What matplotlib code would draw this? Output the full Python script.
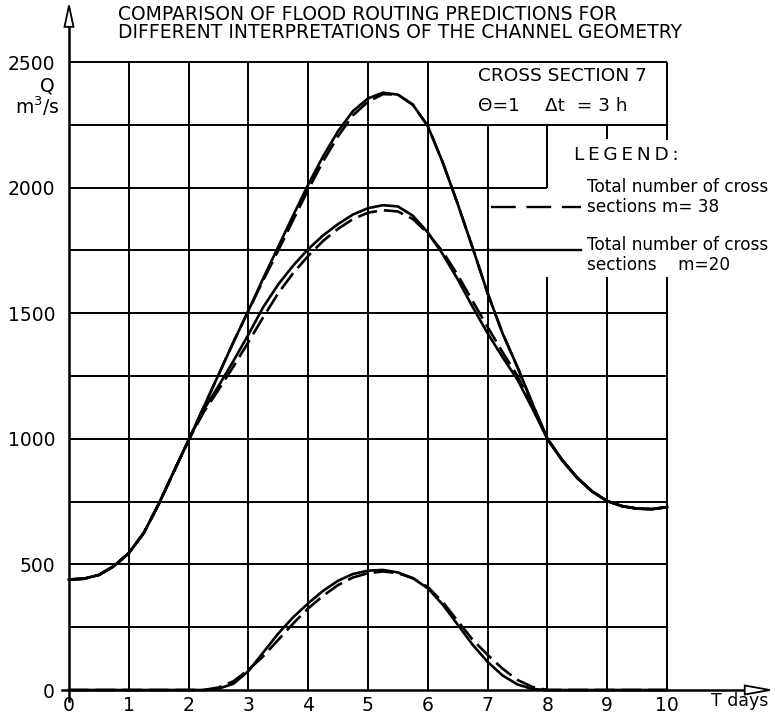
import matplotlib
matplotlib.use("Agg")
import matplotlib.pyplot as plt
from matplotlib.patches import Polygon

# ---------------------------------------------------------------------------
# Data: discharge Q (m^3/s) versus time T (days), cross section 7
# ---------------------------------------------------------------------------
days = [0.0, 0.25, 0.5, 0.75, 1.0, 1.25, 1.5, 1.75, 2.0, 2.25, 2.5, 2.75,
        3.0, 3.25, 3.5, 3.75, 4.0, 4.25, 4.5, 4.75, 5.0, 5.25, 5.5, 5.75,
        6.0, 6.25, 6.5, 6.75, 7.0, 7.25, 7.5, 7.75, 8.0, 8.25, 8.5, 8.75,
        9.0, 9.25, 9.5, 9.75, 10.0]

# upper hydrograph
upper_m20 = [440, 443, 458, 493, 545, 625, 740, 868, 995, 1125, 1255, 1385,
             1510, 1640, 1765, 1890, 2012, 2125, 2225, 2305, 2355, 2378, 2370, 2330,
             2245, 2100, 1935, 1760, 1580, 1420, 1285, 1140, 1000, 915, 845, 790,
             752, 732, 722, 720, 728]
upper_m38 = [440, 443, 458, 493, 545, 625, 740, 868, 995, 1125, 1255, 1385,
             1510, 1632, 1750, 1872, 1992, 2105, 2205, 2288, 2342, 2372, 2370, 2330,
             2245, 2100, 1935, 1760, 1580, 1420, 1285, 1140, 1000, 915, 845, 790,
             752, 732, 722, 720, 728]

# middle hydrograph
middle_m20 = [440, 443, 458, 493, 545, 625, 740, 868, 995, 1115, 1210, 1310,
              1415, 1525, 1615, 1690, 1755, 1810, 1855, 1893, 1918, 1930, 1925, 1888,
              1822, 1735, 1635, 1525, 1420, 1325, 1235, 1120, 1000, 912, 843, 790,
              752, 732, 722, 720, 728]
middle_m38 = [440, 443, 458, 493, 545, 625, 740, 868, 995, 1105, 1195, 1288,
              1385, 1485, 1580, 1660, 1728, 1788, 1836, 1875, 1900, 1910, 1905, 1875,
              1818, 1745, 1652, 1548, 1445, 1345, 1250, 1130, 1000, 915, 845, 790,
              752, 732, 722, 720, 728]

# lower hydrograph
lower_m20 = [0, 0, 0, 0, 0, 0, 0, 0, 0, 0, 5, 25,
             75, 150, 225, 290, 345, 395, 435, 462, 475, 478, 468, 445,
             405, 340, 260, 180, 112, 58, 22, 4, 0, 0, 0, 0,
             0, 0, 0, 0, 0]
lower_m38 = [0, 0, 0, 0, 0, 0, 0, 0, 0, 0, 10, 35,
             80, 135, 200, 265, 325, 375, 418, 448, 465, 472, 465, 445,
             410, 350, 275, 200, 140, 85, 40, 12, 0, 0, 0, 0,
             0, 0, 0, 0, 0]

x_ticks = [0, 1, 2, 3, 4, 5, 6, 7, 8, 9, 10]
x_tick_labels = ["0", "1", "2", "3", "4", "5", "6", "7", "8", "9", "10"]
y_ticks = [0, 500, 1000, 1500, 2000, 2500]
y_tick_labels = ["0", "500", "1000", "1500", "2000", "2500"]
q_grid = [0, 250, 500, 750, 1000, 1250, 1500, 1750, 2000, 2250, 2500]

title_lines = ["COMPARISON OF FLOOD ROUTING PREDICTIONS FOR",
               "DIFFERENT INTERPRETATIONS OF THE CHANNEL GEOMETRY"]
legend_m38 = ["Total number of cross", "sections m= 38"]
legend_m20 = ["Total number of cross", "sections    m=20"]

# ---------------------------------------------------------------------------
# Figure geometry (pixels)
# ---------------------------------------------------------------------------
W, H, DPI = 775, 717, 100
X0_PX, PX_PER_DAY = 69.0, 59.8        # T = 0 position, scale
Y0_PX, PX_PER_Q = 690.0, 0.2512       # Q = 0 position, scale
XLIM = (-0.15, 11.72)
YLIM = (-50.0, 2725.0)

left = X0_PX + XLIM[0] * PX_PER_DAY
right = X0_PX + XLIM[1] * PX_PER_DAY
bottom = Y0_PX - YLIM[0] * PX_PER_Q
top = Y0_PX - YLIM[1] * PX_PER_Q

plt.rcParams["font.family"] = ["DejaVu Sans"]

fig = plt.figure(figsize=(W / DPI, H / DPI), dpi=DPI)
fig.patch.set_facecolor("white")
ax = fig.add_axes([left / W, (H - bottom) / H, (right - left) / W, (bottom - top) / H])
ax.set_xlim(*XLIM)
ax.set_ylim(*YLIM)
ax.set_facecolor("white")

FS_TICK = 13.5
FS_TITLE = 13.5
FS_BOX = 13.3
FS_LEG = 12.2
INK = "black"
GRID_LW = 1.4
CURVE_LW = 1.9

# axes lines through the origin
for s in ("top", "right"):
    ax.spines[s].set_visible(False)
ax.spines["left"].set_position(("data", 0))
ax.spines["bottom"].set_position(("data", 0))
ax.spines["left"].set_bounds(-45, 2640)
ax.spines["bottom"].set_bounds(-0.12, 11.3)
ax.spines["left"].set_linewidth(1.8)
ax.spines["bottom"].set_linewidth(1.8)

ax.set_xticks(x_ticks)
ax.set_xticklabels(x_tick_labels, fontsize=FS_TICK)
ax.set_yticks(y_ticks)
ax.set_yticklabels(y_tick_labels, fontsize=FS_TICK)
ax.tick_params(axis="both", length=0, colors=INK)
ax.tick_params(axis="x", pad=4)
ax.tick_params(axis="y", pad=10)

# hollow arrow heads at the ends of both axes
hw_day = 4.5 / PX_PER_DAY
hh_q = 4.5 / PX_PER_Q
ax.add_patch(Polygon([[0 - hw_day, 2640], [0 + hw_day, 2640], [0, YLIM[1]]],
                     closed=True, facecolor="white", edgecolor=INK, lw=1.3,
                     clip_on=False, zorder=6))
ax.add_patch(Polygon([[11.3, -hh_q], [11.3, hh_q], [XLIM[1], 0]],
                     closed=True, facecolor="white", edgecolor=INK, lw=1.3,
                     clip_on=False, zorder=6))

# ---------------------------------------------------------------------------
# Grid, interrupted where the text blocks sit
# ---------------------------------------------------------------------------
v_spans = {1: [(0, 2500)], 2: [(0, 2500)], 3: [(0, 2500)], 4: [(0, 2500)],
           5: [(0, 2500)], 6: [(0, 2500)], 7: [(0, 2250)],
           8: [(0, 1645), (2000, 2250)], 9: [(0, 1645), (2195, 2250)],
           10: [(0, 1645), (2190, 2500)]}
h_spans = {250: (0, 10), 500: (0, 10), 750: (0, 10), 1000: (0, 10),
           1250: (0, 10), 1500: (0, 10), 1750: (0, 7), 2000: (0, 8),
           2250: (0, 10), 2500: (0, 10)}
for xv in x_ticks[1:]:
    for q0, q1 in v_spans[xv]:
        ax.plot([xv, xv], [q0, q1], color=INK, lw=GRID_LW, zorder=1,
                solid_capstyle="butt")
for qv in q_grid[1:]:
    a, b = h_spans[qv]
    ax.plot([a, b], [qv, qv], color=INK, lw=GRID_LW, zorder=1,
            solid_capstyle="butt")

# ---------------------------------------------------------------------------
# Hydrographs
# ---------------------------------------------------------------------------
dash = (0, (7.5, 2.6))
for series in (upper_m38, middle_m38, lower_m38):
    ax.plot(days, series, color=INK, lw=CURVE_LW, linestyle=dash, zorder=3,
            solid_joinstyle="round", dash_capstyle="butt")
for series in (upper_m20, middle_m20, lower_m20):
    ax.plot(days, series, color=INK, lw=CURVE_LW, zorder=4,
            solid_joinstyle="round")

# ---------------------------------------------------------------------------
# Text
# ---------------------------------------------------------------------------
def d2x(px):
    return (px - X0_PX) / PX_PER_DAY


def d2y(py):
    return (Y0_PX - py) / PX_PER_Q


fig.text(118 / W, 1 - 14 / H, title_lines[0], fontsize=FS_TITLE, ha="left", va="center")
fig.text(118 / W, 1 - 32 / H, title_lines[1], fontsize=FS_TITLE, ha="left", va="center")

fig.text(47 / W, 1 - 86 / H, "Q", fontsize=FS_TICK, ha="center", va="center")
fig.text(37 / W, 1 - 106 / H, r"m$^3$/s", fontsize=FS_TICK, ha="center", va="center")

ax.text(d2x(711), d2y(701), "T days", fontsize=12.5, ha="left", va="center",
        clip_on=False)

# information box
ax.text(d2x(478), d2y(76), "CROSS SECTION 7", fontsize=FS_BOX, ha="left", va="center")
ax.text(d2x(478), d2y(106), "Θ=1", fontsize=FS_BOX, ha="left", va="center")
ax.text(d2x(545), d2y(106), "Δt  = 3 h", fontsize=FS_BOX, ha="left", va="center")

ax.text(d2x(574), d2y(155), "L\u2009E\u2009G\u2009E\u2009N\u2009D\u2009:",
        fontsize=FS_BOX, ha="left", va="center")

ax.text(d2x(587), d2y(187), legend_m38[0], fontsize=FS_LEG, ha="left", va="center",
        clip_on=False)
ax.text(d2x(587), d2y(207), legend_m38[1], fontsize=FS_LEG, ha="left", va="center")
ax.text(d2x(587), d2y(245), legend_m20[0], fontsize=FS_LEG, ha="left", va="center",
        clip_on=False)
ax.text(d2x(587), d2y(265), legend_m20[1], fontsize=FS_LEG, ha="left", va="center")

ax.plot([d2x(491), d2x(581)], [d2y(207), d2y(207)], color=INK, lw=1.7,
        linestyle=(0, (10.5, 4.5)), zorder=3)
ax.plot([d2x(490), d2x(581)], [d2y(250), d2y(250)], color=INK, lw=1.7, zorder=3)

fig.savefig("out.png", dpi=DPI, facecolor="white")
